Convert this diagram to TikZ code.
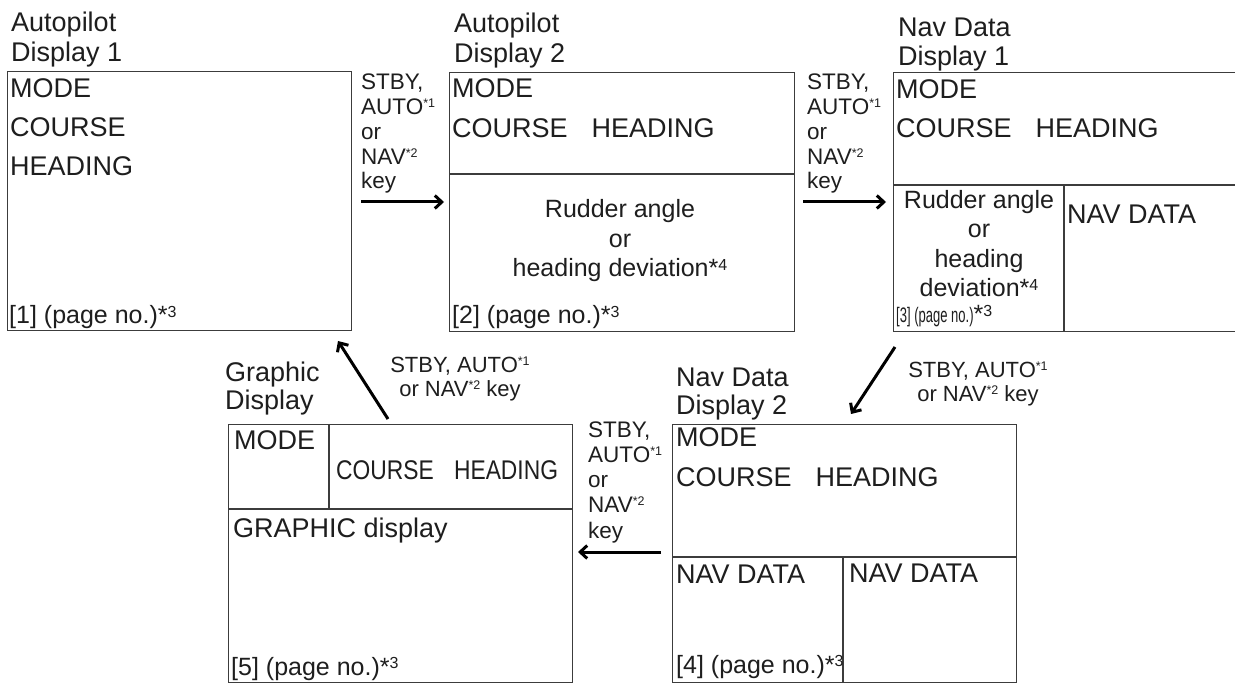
\documentclass[tikz,border=0pt]{standalone}
\usepackage{fontspec}
\setmainfont{Liberation Sans}
\usetikzlibrary{arrows.meta}
\definecolor{linegray}{RGB}{60,60,60}
\definecolor{textcol}{RGB}{30,30,30}
\newcommand\fmain{\fontsize{27}{30}\selectfont}
\newcommand\fsub{\fontsize{25}{30}\selectfont}
\newcommand\flab{\fontsize{22.5}{25}\selectfont}
\newcommand\ftwo{\fontsize{22}{25}\selectfont}
\newcommand\kst[1]{\raisebox{7pt}{\fontsize{12.5}{12.5}\selectfont *#1}}
\newcommand\pst[1]{*\raisebox{6.5pt}{\fontsize{16}{16}\selectfont #1}}
\newcommand\chtext{COURSE\hspace{24pt}HEADING}
\tikzset{
  box/.style={draw=linegray, line width=1.3pt, rectangle, inner sep=0pt, anchor=north west},
  txt/.style={inner sep=0pt, anchor=base west, text=textcol},
  ctxt/.style={inner sep=0pt, anchor=base, text=textcol},
  arr/.style={line width=3pt, draw=black, -{Straight Barb[length=7pt,width=13pt]}},
  div/.style={draw=linegray, line width=1.3pt}
}
\begin{document}
\begin{tikzpicture}[x=1pt,y=1pt]
\useasboundingbox (0,0) rectangle (1235,-684);
\clip (0,0) rectangle (1235,-684);
\fill[white] (0,0) rectangle (1235,-684);

% ---------- Box 1 : Autopilot Display 1
\node[box, minimum width=344, minimum height=259] (b1) at (7,-71) {};
\node[txt, font=\fmain] (t1a) at (11,-32) {Autopilot};
\node[txt, font=\fmain] (t1b) at (11,-62) {Display 1};
\node[txt, font=\fmain] (b1m) at (10,-98) {MODE};
\node[txt, font=\fmain] (b1c) at (10,-137) {COURSE};
\node[txt, font=\fmain] (b1h) at (10,-176) {HEADING};
\node[txt, font=\fsub] (b1p) at (9,-324) {[1] (page no.)\pst{3}};

% ---------- Box 2 : Autopilot Display 2
\node[box, minimum width=345, minimum height=259] (b2) at (449,-72) {};
\draw[div] (449,-174) -- (794,-174);
\node[txt, font=\fmain] (t2a) at (454,-33) {Autopilot};
\node[txt, font=\fmain] (t2b) at (454,-63) {Display 2};
\node[txt, font=\fmain] (b2m) at (452,-98) {MODE};
\node[txt, font=\fmain] (b2c) at (452,-138) {\chtext};
\node[ctxt, font=\fsub] (b2r1) at (620,-218) {Rudder angle};
\node[ctxt, font=\fsub] (b2r2) at (620,-248) {or};
\node[ctxt, font=\fsub] (b2r3) at (620,-277) {heading deviation\pst{4}};
\node[txt, font=\fsub] (b2p) at (452,-324) {[2] (page no.)\pst{3}};

% ---------- Box 3 : Nav Data Display 1 (cut at right edge)
\node[box, minimum width=360, minimum height=259] (b3) at (893,-72) {};
\draw[div] (893,-185) -- (1240,-185);
\draw[div] (1064,-185) -- (1064,-331);
\node[txt, font=\fmain] (t3a) at (898,-37) {Nav Data};
\node[txt, font=\fmain] (t3b) at (898,-66) {Display 1};
\node[txt, font=\fmain] (b3m) at (896,-99) {MODE};
\node[txt, font=\fmain] (b3c) at (896,-138) {\chtext};
\node[ctxt, font=\fsub] (b3r1) at (979,-209) {Rudder angle};
\node[ctxt, font=\fsub] (b3r2) at (979,-238) {or};
\node[ctxt, font=\fsub] (b3r3) at (979,-268) {heading};
\node[ctxt, font=\fsub] (b3r4) at (979,-297) {deviation\pst{4}};
\node[txt] (b3p) at (896,-323) {\scalebox{0.62}[1]{\fontsize{21}{21}\selectfont [3] (page no.)}{\fsub\pst{3}}};
\node[txt, font=\fmain] (b3n) at (1067,-224) {NAV DATA};

% ---------- Box 4 : Nav Data Display 2
\node[box, minimum width=344, minimum height=258] (b4) at (672,-424) {};
\draw[div] (672,-557) -- (1016,-557);
\draw[div] (843,-557) -- (843,-682);
\node[txt, font=\fmain] (t4a) at (676,-387) {Nav Data};
\node[txt, font=\fmain] (t4b) at (676,-415) {Display 2};
\node[txt, font=\fmain] (b4m) at (676,-447) {MODE};
\node[txt, font=\fmain] (b4c) at (676,-486) {\chtext};
\node[txt, font=\fmain] (b4n1) at (676,-583) {NAV DATA};
\node[txt, font=\fmain] (b4n2) at (849,-582) {NAV DATA};
\node[txt, font=\fsub] (b4p) at (676,-673) {[4] (page no.)\pst{3}};

% ---------- Box 5 : Graphic Display
\node[box, minimum width=344, minimum height=258] (b5) at (228,-424) {};
\draw[div] (228,-509) -- (572,-509);
\draw[div] (329,-424) -- (329,-509);
\node[txt, font=\fmain] (t5a) at (225,-382) {Graphic};
\node[txt, font=\fmain] (t5b) at (225,-410) {Display};
\node[txt, font=\fmain] (b5m) at (234,-450) {MODE};
\node[txt, font=\fmain] (b5c) at (336,-480) {\scalebox{0.845}[1]{\chtext}};
\node[txt, font=\fmain] (b5g) at (233,-537) {GRAPHIC display};
\node[txt, font=\fsub] (b5p) at (231,-675) {[5] (page no.)\pst{3}};

% ---------- key labels
\foreach \xx/\nm in {361/la, 807/lb}{
  \node[txt, font=\flab] (\nm1) at (\xx,-90) {STBY,};
  \node[txt, font=\flab] (\nm2) at (\xx,-115) {AUTO\kst{1}};
  \node[txt, font=\flab] (\nm3) at (\xx,-140) {or};
  \node[txt, font=\flab] (\nm4) at (\xx,-165) {NAV\kst{2}};
  \node[txt, font=\flab] (\nm5) at (\xx,-189) {key};
}
\node[txt, font=\flab] (lc1) at (588,-438) {STBY,};
\node[txt, font=\flab] (lc2) at (588,-463) {AUTO\kst{1}};
\node[txt, font=\flab] (lc3) at (588,-488) {or};
\node[txt, font=\flab] (lc4) at (588,-513) {NAV\kst{2}};
\node[txt, font=\flab] (lc5) at (588,-538) {key};

\node[ctxt, font=\ftwo] (ld1) at (978,-378) {STBY, AUTO\kst{1}};
\node[ctxt, font=\ftwo] (ld2) at (978,-402) {or NAV\kst{2} key};
\node[ctxt, font=\ftwo] (le1) at (460,-373) {STBY, AUTO\kst{1}};
\node[ctxt, font=\ftwo] (le2) at (460,-397) {or NAV\kst{2} key};

% ---------- arrows
\coordinate (a1s) at (361,-202); \coordinate (a1e) at (444,-202);
\coordinate (a2s) at (803,-202); \coordinate (a2e) at (886,-202);
\coordinate (a3s) at (895,-347); \coordinate (a3e) at (851,-414);
\coordinate (a4s) at (661,-552); \coordinate (a4e) at (578,-552);
\coordinate (a5s) at (388,-419); \coordinate (a5e) at (338,-341);
\draw[arr] (a1s) -- (a1e);
\draw[arr] (a2s) -- (a2e);
\draw[arr] (a3s) -- (a3e);
\draw[arr] (a4s) -- (a4e);
\draw[arr] (a5s) -- (a5e);
\end{tikzpicture}
\end{document}
